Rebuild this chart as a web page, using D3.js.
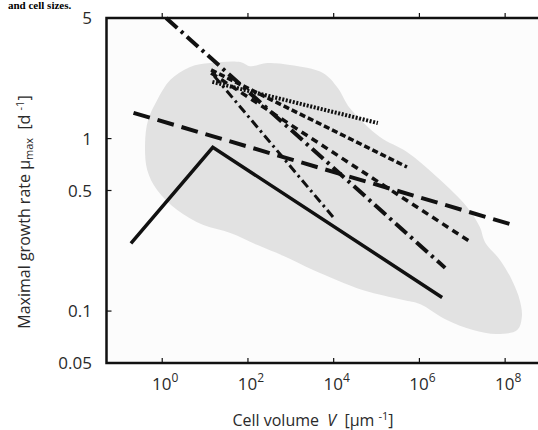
<!DOCTYPE html>
<html>
<head>
<meta charset="utf-8">
<script src="https://cdn.jsdelivr.net/npm/d3@7"></script>
<style>
  body { margin: 0; background: #fff; }
  text { font-family: "Open Sans", "Noto Sans", sans-serif; fill: #2a2a2a; white-space: pre; }
</style>
</head>
<body>
<svg id="chart"></svg>
<script>
let width = 538
let height = 430

// axis ticks
let xTickExp = [0, 2, 4, 6, 8]
let yTicks = [0.05, 0.1, 0.5, 1, 5]

// lines: log10(volume) and growth rate
let solidLogV = [-0.73, 1.18, 6.53]
let solidMu = [0.247, 0.89, 0.12]
let longDashLogV = [-0.67, 8.27]
let longDashMu = [1.41, 0.311]
let bigDashDotLogV = [0.09, 6.6]
let bigDashDotMu = [5.0, 0.178]
let mediumDashLogV = [1.14, 5.71]
let mediumDashMu = [2.5, 0.684]
let dottedLogV = [1.17, 5.03]
let dottedMu = [2.13, 1.23]
let shortDashLogV = [1.14, 7.23]
let shortDashMu = [2.4, 0.248]
let thinDashDotLogV = [1.21, 3.99]
let thinDashDotMu = [2.31, 0.35]

// grey cloud outline
let cloudLogV = [-0.40, -0.33, -0.12, 0.19, 0.65, 1.12, 1.82, 2.05, 2.45, 2.98, 3.75, 4.10, 4.38, 5.08, 5.71, 6.41, 7.11, 7.41, 7.53, 7.88, 8.16, 8.34, 8.39, 8.28, 7.81, 7.25, 6.64, 6.01, 5.62, 4.69, 3.52, 2.82, 2.21, 1.59, 0.96, 0.35, -0.12, -0.35]
let cloudMu = [0.94, 1.28, 1.67, 2.19, 2.60, 2.74, 2.78, 2.63, 2.74, 2.67, 2.40, 1.96, 1.50, 1.02, 0.836, 0.598, 0.401, 0.307, 0.251, 0.198, 0.151, 0.116, 0.0925, 0.0777, 0.0736, 0.0777, 0.0887, 0.110, 0.116, 0.132, 0.173, 0.209, 0.242, 0.284, 0.315, 0.385, 0.503, 0.657]

let plot = {left: 106.5, top: 18, bottom: 363, right: 548}

let xScale = d3.scaleLog().domain([Math.pow(10, -1.3), 1e9]).range([plot.left, plot.right])
let yScale = d3.scaleLog().domain([0.05, 5]).range([plot.bottom, plot.top])

let svg = d3.select("#chart")
    .attr("width", width)
    .attr("height", height)

// caption line from the source page above the figure
svg.append("text")
    .text("and cell sizes.")
    .attr("x", 8)
    .attr("y", 9)
    .attr("font-size", 11)
    .attr("font-weight", "bold")
    .style("font-family", "'Liberation Serif', serif")
    .style("fill", "#000")

svg.append("rect")
    .attr("x", plot.left)
    .attr("y", plot.top)
    .attr("width", plot.right - plot.left)
    .attr("height", plot.bottom - plot.top)
    .attr("fill", "#fcfcfc")

let zip = (xs, ys) => xs.map((v, i) => ({v: Math.pow(10, v), mu: ys[i]}))

let line = d3.line()
    .x(d => xScale(d.v))
    .y(d => yScale(d.mu))

let cloudLine = d3.line()
    .x(d => xScale(d.v))
    .y(d => yScale(d.mu))
    .curve(d3.curveCatmullRomClosed.alpha(0.5))

svg.append("path")
    .datum(zip(cloudLogV, cloudMu))
    .attr("d", cloudLine)
    .attr("fill", "#e2e2e2")

let series = [
    {lv: thinDashDotLogV, mu: thinDashDotMu, dash: "9,4,2.5,4", w: 3},
    {lv: dottedLogV, mu: dottedMu, dash: "2,1.6", w: 4},
    {lv: mediumDashLogV, mu: mediumDashMu, dash: "6,3", w: 3.5},
    {lv: shortDashLogV, mu: shortDashMu, dash: "7,5", w: 3.5},
    {lv: bigDashDotLogV, mu: bigDashDotMu, dash: "15,5,3,5", w: 4},
    {lv: longDashLogV, mu: longDashMu, dash: "17,8", w: 4},
    {lv: solidLogV, mu: solidMu, dash: null, w: 3.5}
]

svg.append("g")
    .attr("id", "lines")
    .selectAll("path")
    .data(series)
    .enter()
    .append("path")
    .attr("d", d => line(zip(d.lv, d.mu)))
    .attr("fill", "none")
    .attr("stroke", "#111")
    .attr("stroke-width", d => d.w)
    .attr("stroke-dasharray", d => d.dash)

// frame: left, top, bottom
let frameColor = "#111"
svg.append("path")
    .attr("d", `M${plot.right},${plot.top}H${plot.left}V${plot.bottom}H${plot.right}`)
    .attr("fill", "none")
    .attr("stroke", frameColor)
    .attr("stroke-width", 2.5)

// x ticks bottom (inward) and top (outward)
let xTickVals = xTickExp.map(e => Math.pow(10, e))
svg.append("g")
    .selectAll("line.xb")
    .data(xTickVals)
    .enter()
    .append("line")
    .attr("x1", d => xScale(d))
    .attr("x2", d => xScale(d))
    .attr("y1", plot.bottom)
    .attr("y2", plot.bottom - 5)
    .attr("stroke", frameColor)
    .attr("stroke-width", 1.2)

svg.append("g")
    .selectAll("line.xt")
    .data(xTickVals)
    .enter()
    .append("line")
    .attr("x1", d => xScale(d))
    .attr("x2", d => xScale(d))
    .attr("y1", plot.top)
    .attr("y2", plot.top - 5)
    .attr("stroke", frameColor)
    .attr("stroke-width", 1.2)

let xLabels = svg.append("g")
    .selectAll("text")
    .data(xTickExp)
    .enter()
    .append("text")
    .attr("x", d => xScale(Math.pow(10, d)) + 3)
    .attr("y", 390)
    .attr("text-anchor", "middle")
    .attr("font-size", 17)

xLabels.append("tspan").text("10")
xLabels.append("tspan")
    .text(d => d)
    .attr("dy", -8)
    .attr("font-size", 12)

// y ticks
svg.append("g")
    .selectAll("line")
    .data(yTicks.filter(d => d > 0.05 && d < 5))
    .enter()
    .append("line")
    .attr("x1", plot.left)
    .attr("x2", plot.left + 5)
    .attr("y1", d => yScale(d))
    .attr("y2", d => yScale(d))
    .attr("stroke", frameColor)
    .attr("stroke-width", 1.2)

svg.append("g")
    .selectAll("text")
    .data(yTicks)
    .enter()
    .append("text")
    .text(d => d)
    .attr("x", 92)
    .attr("y", d => yScale(d) + 6)
    .attr("text-anchor", "end")
    .attr("font-size", 17)

// axis titles
let xTitle = svg.append("text")
    .attr("x", 313)
    .attr("y", 426)
    .attr("text-anchor", "middle")
    .attr("font-size", 16)
xTitle.append("tspan").text("Cell volume  ")
xTitle.append("tspan").text("V").attr("font-style", "italic")
xTitle.append("tspan").text("  [μm ")
xTitle.append("tspan").text("-1").attr("dy", -6).attr("font-size", 11)
xTitle.append("tspan").text("]").attr("dy", 6)

let yTitle = svg.append("text")
    .attr("transform", "translate(30," + 212 + "), rotate(-90)")
    .attr("text-anchor", "middle")
    .attr("font-size", 16)
yTitle.append("tspan").text("Maximal growth rate μ")
yTitle.append("tspan").text("max").attr("dy", 3).attr("font-size", 11)
yTitle.append("tspan").text("  [d ").attr("dy", -3)
yTitle.append("tspan").text("-1").attr("dy", -6).attr("font-size", 11)
yTitle.append("tspan").text("]").attr("dy", 6)
</script>
</body>
</html>
